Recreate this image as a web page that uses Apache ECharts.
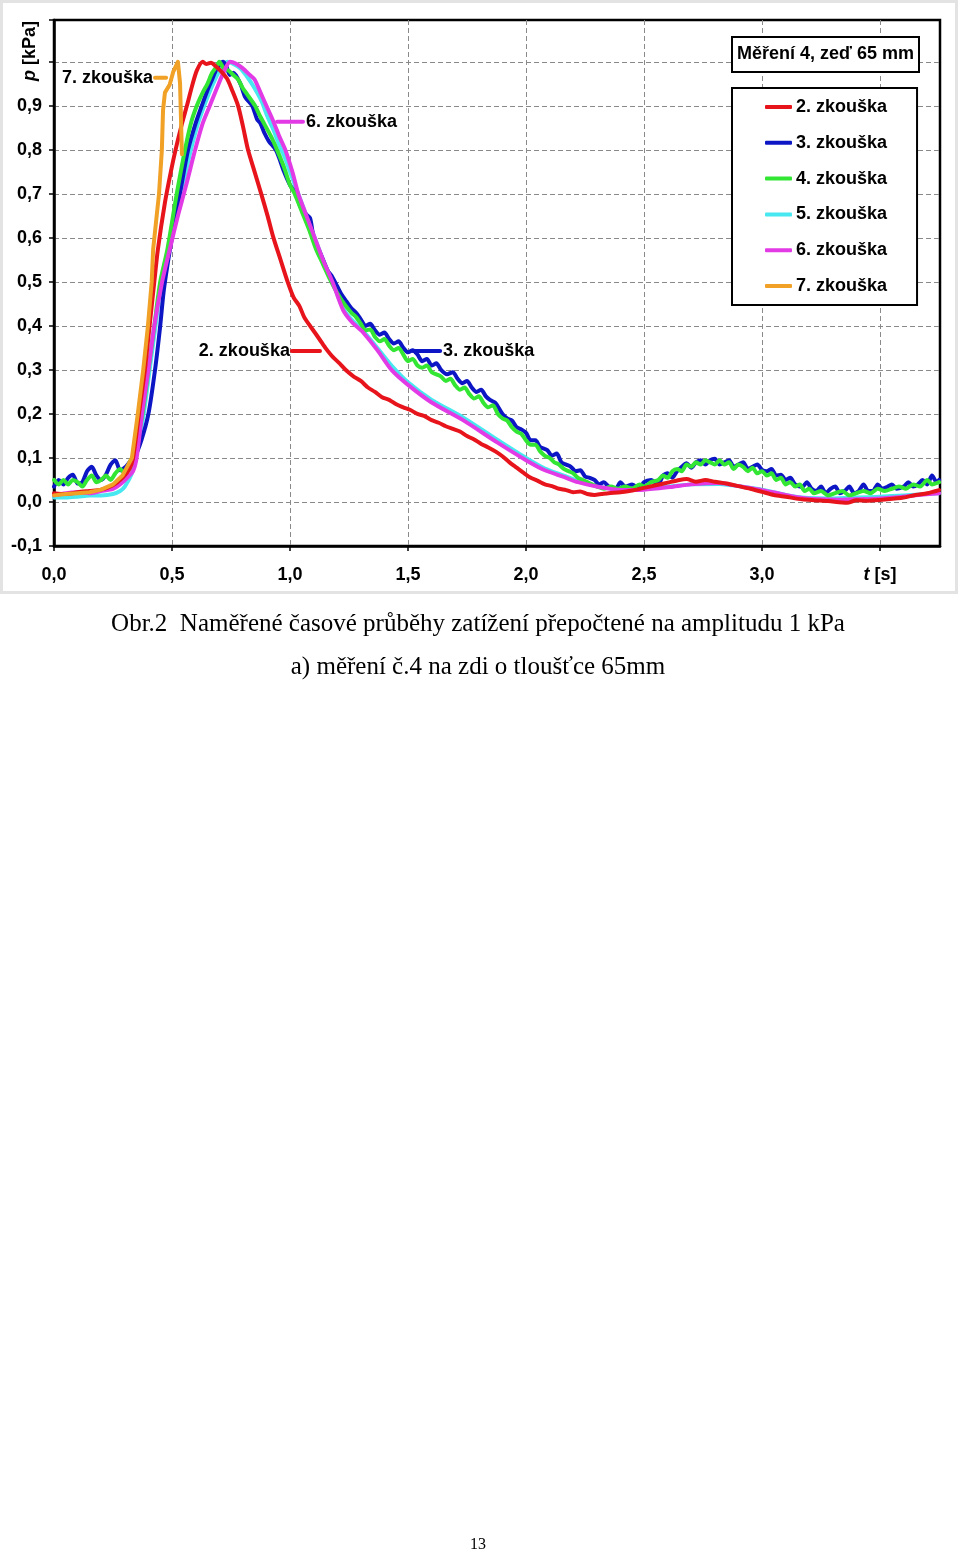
<!DOCTYPE html>
<html><head><meta charset="utf-8">
<script src="https://cdn.jsdelivr.net/npm/echarts@6/dist/echarts.min.js"></script>
<style>html,body{margin:0;padding:0;background:#fff}#c{width:960px;height:1555px}</style>
</head><body><div id="c"></div><script>
// ---- data: [t (s), p (kPa)] ----
const seriesNames = ['2. zkouška','3. zkouška','4. zkouška','5. zkouška','6. zkouška','7. zkouška'];
const test2 = [[0,0.02],[0.05,0.018],[0.1,0.022],[0.15,0.025],[0.2,0.028],[0.25,0.038],[0.29,0.055],[0.32,0.075],[0.335,0.1],[0.36,0.2],[0.385,0.3],[0.405,0.4],[0.425,0.5],[0.44,0.573],[0.47,0.68],[0.495,0.75],[0.515,0.8],[0.54,0.855],[0.563,0.9],[0.585,0.945],[0.605,0.98],[0.63,1.0],[0.645,0.995],[0.665,0.998],[0.685,0.99],[0.705,0.98],[0.733,0.962],[0.755,0.935],[0.78,0.9],[0.8,0.855],[0.822,0.8],[0.85,0.75],[0.878,0.7],[0.905,0.65],[0.93,0.6],[0.96,0.55],[0.99,0.5],[1.015,0.465],[1.04,0.445],[1.06,0.42],[1.085,0.4],[1.105,0.385],[1.127,0.368],[1.15,0.35],[1.18,0.33],[1.21,0.315],[1.24,0.298],[1.27,0.285],[1.3,0.275],[1.33,0.26],[1.36,0.25],[1.39,0.238],[1.42,0.232],[1.45,0.222],[1.48,0.215],[1.51,0.209],[1.54,0.2],[1.57,0.195],[1.6,0.186],[1.63,0.18],[1.66,0.172],[1.69,0.166],[1.72,0.16],[1.75,0.15],[1.78,0.142],[1.81,0.132],[1.84,0.124],[1.87,0.115],[1.9,0.104],[1.93,0.09],[1.96,0.078],[1.99,0.066],[2.02,0.055],[2.05,0.048],[2.08,0.04],[2.11,0.036],[2.14,0.03],[2.17,0.027],[2.2,0.022],[2.23,0.024],[2.26,0.018],[2.29,0.016],[2.32,0.018],[2.35,0.02],[2.4,0.022],[2.45,0.026],[2.5,0.032],[2.55,0.038],[2.6,0.044],[2.65,0.05],[2.68,0.052],[2.72,0.046],[2.76,0.05],[2.8,0.046],[2.85,0.042],[2.9,0.036],[2.95,0.03],[3.0,0.023],[3.05,0.016],[3.1,0.012],[3.17,0.006],[3.22,0.004],[3.28,0.002],[3.36,-0.002],[3.4,0.004],[3.45,0.003],[3.53,0.006],[3.6,0.01],[3.65,0.016],[3.7,0.02],[3.75,0.027]];
const test3 = [[0,0.035],[0.02,0.05],[0.04,0.04],[0.06,0.055],[0.08,0.062],[0.1,0.042],[0.12,0.045],[0.14,0.07],[0.16,0.08],[0.18,0.06],[0.2,0.05],[0.22,0.062],[0.24,0.085],[0.26,0.095],[0.28,0.072],[0.3,0.078],[0.32,0.09],[0.34,0.1],[0.37,0.14],[0.4,0.2],[0.428,0.3],[0.45,0.4],[0.465,0.48],[0.49,0.57],[0.51,0.63],[0.54,0.72],[0.568,0.8],[0.6,0.86],[0.626,0.9],[0.65,0.935],[0.67,0.96],[0.69,0.985],[0.716,1.0],[0.73,0.99],[0.745,0.97],[0.76,0.975],[0.79,0.95],[0.81,0.92],[0.84,0.9],[0.86,0.87],[0.875,0.86],[0.89,0.84],[0.91,0.82],[0.94,0.8],[0.955,0.78],[0.975,0.75],[1.0,0.72],[1.025,0.7],[1.045,0.67],[1.065,0.655],[1.085,0.645],[1.1,0.6],[1.12,0.575],[1.14,0.55],[1.16,0.525],[1.175,0.515],[1.2,0.49],[1.22,0.47],[1.24,0.455],[1.26,0.44],[1.28,0.43],[1.3,0.415],[1.32,0.4],[1.34,0.405],[1.36,0.39],[1.38,0.38],[1.4,0.385],[1.42,0.37],[1.44,0.36],[1.46,0.365],[1.48,0.35],[1.5,0.34],[1.52,0.345],[1.54,0.335],[1.56,0.32],[1.58,0.325],[1.6,0.31],[1.62,0.315],[1.64,0.3],[1.665,0.29],[1.69,0.295],[1.71,0.28],[1.73,0.27],[1.75,0.275],[1.77,0.26],[1.79,0.25],[1.81,0.255],[1.83,0.24],[1.847,0.232],[1.87,0.225],[1.9,0.2],[1.92,0.19],[1.94,0.185],[1.96,0.17],[1.98,0.165],[2.0,0.157],[2.02,0.14],[2.04,0.14],[2.06,0.125],[2.09,0.118],[2.11,0.105],[2.13,0.11],[2.15,0.09],[2.17,0.085],[2.19,0.08],[2.21,0.07],[2.23,0.072],[2.25,0.058],[2.27,0.055],[2.29,0.05],[2.31,0.04],[2.33,0.045],[2.35,0.035],[2.38,0.03],[2.4,0.045],[2.42,0.035],[2.45,0.04],[2.48,0.03],[2.5,0.045],[2.53,0.05],[2.56,0.04],[2.58,0.06],[2.6,0.065],[2.62,0.055],[2.64,0.07],[2.66,0.08],[2.68,0.088],[2.7,0.078],[2.72,0.09],[2.74,0.095],[2.76,0.085],[2.78,0.095],[2.8,0.098],[2.82,0.085],[2.84,0.09],[2.86,0.095],[2.88,0.08],[2.9,0.085],[2.92,0.09],[2.94,0.075],[2.96,0.08],[2.98,0.085],[3.0,0.073],[3.02,0.07],[3.04,0.075],[3.06,0.06],[3.08,0.062],[3.1,0.05],[3.12,0.055],[3.14,0.04],[3.17,0.034],[3.19,0.045],[3.21,0.03],[3.23,0.025],[3.25,0.035],[3.27,0.02],[3.29,0.03],[3.31,0.035],[3.33,0.02],[3.35,0.025],[3.37,0.035],[3.39,0.02],[3.41,0.025],[3.43,0.04],[3.45,0.025],[3.47,0.025],[3.49,0.04],[3.51,0.03],[3.53,0.034],[3.55,0.04],[3.57,0.03],[3.6,0.035],[3.62,0.045],[3.64,0.035],[3.66,0.04],[3.68,0.05],[3.7,0.04],[3.72,0.06],[3.74,0.045],[3.75,0.05]];
const test4 = [[0,0.05],[0.02,0.04],[0.04,0.05],[0.06,0.04],[0.08,0.05],[0.1,0.045],[0.12,0.035],[0.14,0.05],[0.16,0.06],[0.18,0.045],[0.2,0.05],[0.22,0.06],[0.24,0.05],[0.26,0.065],[0.28,0.075],[0.3,0.065],[0.32,0.09],[0.34,0.11],[0.375,0.2],[0.4,0.3],[0.425,0.4],[0.45,0.5],[0.48,0.573],[0.52,0.7],[0.555,0.8],[0.58,0.86],[0.605,0.9],[0.63,0.93],[0.65,0.95],[0.67,0.975],[0.69,0.99],[0.7,1.0],[0.72,0.985],[0.74,0.98],[0.76,0.97],[0.78,0.96],[0.8,0.94],[0.82,0.925],[0.852,0.9],[0.87,0.88],[0.89,0.86],[0.92,0.83],[0.945,0.8],[0.975,0.76],[1.0,0.72],[1.02,0.7],[1.05,0.66],[1.08,0.62],[1.11,0.575],[1.14,0.54],[1.17,0.505],[1.2,0.475],[1.23,0.45],[1.26,0.43],[1.28,0.42],[1.3,0.405],[1.32,0.39],[1.34,0.392],[1.36,0.375],[1.38,0.365],[1.4,0.37],[1.42,0.355],[1.44,0.345],[1.46,0.35],[1.48,0.335],[1.5,0.32],[1.52,0.325],[1.54,0.31],[1.56,0.305],[1.58,0.31],[1.6,0.295],[1.62,0.29],[1.64,0.285],[1.66,0.275],[1.68,0.28],[1.7,0.265],[1.72,0.255],[1.74,0.26],[1.76,0.245],[1.78,0.235],[1.8,0.24],[1.82,0.225],[1.84,0.215],[1.86,0.22],[1.88,0.2],[1.9,0.19],[1.92,0.185],[1.94,0.17],[1.96,0.16],[1.98,0.155],[2.0,0.14],[2.02,0.13],[2.04,0.13],[2.06,0.115],[2.08,0.105],[2.1,0.1],[2.12,0.09],[2.14,0.085],[2.16,0.075],[2.18,0.07],[2.2,0.065],[2.22,0.055],[2.24,0.05],[2.26,0.045],[2.28,0.04],[2.3,0.035],[2.33,0.03],[2.36,0.035],[2.39,0.03],[2.42,0.035],[2.45,0.03],[2.48,0.04],[2.5,0.035],[2.53,0.045],[2.56,0.05],[2.58,0.06],[2.6,0.055],[2.62,0.07],[2.64,0.075],[2.66,0.07],[2.68,0.085],[2.7,0.08],[2.72,0.09],[2.74,0.085],[2.76,0.095],[2.78,0.09],[2.8,0.085],[2.82,0.095],[2.84,0.085],[2.86,0.09],[2.88,0.075],[2.9,0.085],[2.92,0.08],[2.94,0.07],[2.96,0.078],[2.98,0.065],[3.0,0.07],[3.02,0.06],[3.04,0.065],[3.06,0.05],[3.08,0.055],[3.1,0.04],[3.12,0.045],[3.14,0.035],[3.16,0.04],[3.18,0.025],[3.2,0.03],[3.22,0.02],[3.25,0.025],[3.28,0.015],[3.31,0.02],[3.34,0.025],[3.37,0.015],[3.4,0.02],[3.43,0.025],[3.46,0.02],[3.49,0.03],[3.52,0.025],[3.55,0.03],[3.58,0.035],[3.61,0.03],[3.64,0.04],[3.67,0.035],[3.7,0.05],[3.72,0.04],[3.75,0.045]];
const test5 = [[0,0.01],[0.05,0.01],[0.1,0.012],[0.15,0.015],[0.2,0.015],[0.25,0.018],[0.28,0.025],[0.3,0.035],[0.33,0.065],[0.345,0.1],[0.38,0.2],[0.405,0.3],[0.43,0.4],[0.455,0.5],[0.485,0.573],[0.52,0.66],[0.55,0.73],[0.58,0.8],[0.61,0.86],[0.64,0.905],[0.67,0.945],[0.7,0.978],[0.735,1.0],[0.76,0.995],[0.79,0.985],[0.82,0.965],[0.85,0.94],[0.88,0.91],[0.905,0.875],[0.93,0.845],[0.955,0.81],[0.98,0.78],[1.0,0.75],[1.035,0.7],[1.07,0.65],[1.105,0.6],[1.14,0.55],[1.18,0.5],[1.225,0.44],[1.26,0.415],[1.31,0.388],[1.37,0.35],[1.43,0.31],[1.5,0.272],[1.6,0.232],[1.733,0.192],[1.876,0.142],[2.0,0.1],[2.08,0.076],[2.16,0.06],[2.22,0.048],[2.3,0.036],[2.4,0.03],[2.5,0.03],[2.6,0.035],[2.7,0.04],[2.82,0.041],[2.9,0.036],[3.0,0.028],[3.1,0.016],[3.17,0.01],[3.3,0.008],[3.4,0.01],[3.5,0.012],[3.6,0.015],[3.75,0.02]];
const test6 = [[0,0.015],[0.05,0.02],[0.1,0.022],[0.15,0.02],[0.2,0.025],[0.25,0.03],[0.28,0.04],[0.31,0.055],[0.335,0.07],[0.35,0.1],[0.373,0.2],[0.4,0.3],[0.425,0.4],[0.458,0.5],[0.49,0.573],[0.525,0.65],[0.56,0.72],[0.598,0.8],[0.63,0.86],[0.66,0.9],[0.69,0.94],[0.72,0.978],[0.746,1.0],[0.77,0.996],[0.8,0.985],[0.83,0.97],[0.85,0.96],[0.875,0.93],[0.9,0.9],[0.93,0.864],[0.955,0.83],[0.98,0.8],[1.01,0.75],[1.035,0.7],[1.07,0.65],[1.105,0.6],[1.14,0.55],[1.18,0.5],[1.225,0.436],[1.26,0.41],[1.29,0.395],[1.31,0.385],[1.37,0.345],[1.43,0.3],[1.5,0.266],[1.6,0.226],[1.733,0.186],[1.876,0.136],[2.0,0.095],[2.08,0.072],[2.16,0.057],[2.22,0.045],[2.3,0.035],[2.4,0.027],[2.5,0.028],[2.61,0.034],[2.7,0.04],[2.82,0.043],[2.9,0.036],[3.0,0.027],[3.08,0.018],[3.17,0.009],[3.25,0.006],[3.32,0.005],[3.45,0.007],[3.53,0.009],[3.65,0.015],[3.75,0.02]];
const test7 = [[0,0.015],[0.05,0.018],[0.1,0.02],[0.15,0.022],[0.2,0.028],[0.25,0.04],[0.29,0.06],[0.33,0.1],[0.355,0.2],[0.378,0.3],[0.398,0.4],[0.414,0.5],[0.42,0.573],[0.435,0.65],[0.445,0.7],[0.457,0.8],[0.462,0.89],[0.47,0.93],[0.49,0.948],[0.505,0.977],[0.525,1.0],[0.534,0.952],[0.542,0.79]];
const xTicks = ['0,0','0,5','1,0','1,5','2,0','2,5','3,0'];
const yTicks = ['-0,1','0,0','0,1','0,2','0,3','0,4','0,5','0,6','0,7','0,8','0,9'];

const colors = {'2. zkouška':'#e8141c','3. zkouška':'#0c16c4','4. zkouška':'#33e634','5. zkouška':'#47e8f0','6. zkouška':'#e23be6','7. zkouška':'#f0a126'};
const dataMap = {'2. zkouška':test2,'3. zkouška':test3,'4. zkouška':test4,'5. zkouška':test5,'6. zkouška':test6,'7. zkouška':test7};
const drawOrder = ['5. zkouška','3. zkouška','4. zkouška','6. zkouška','2. zkouška','7. zkouška'];

const FONT = '"Liberation Sans", Arial, sans-serif';
const SERIF = '"Liberation Serif", "Times New Roman", serif';

const chart = echarts.init(document.getElementById('c'), null, {renderer:'canvas'});

function near(v, t){ return Math.abs(v - t) < 1e-6; }

const option = {
  animation: false,
  backgroundColor: '#fff',
  title: {
    text: 'Měření 4, zeď 65 mm', left: 732, top: 37,
    padding: [7, 5, 7, 5], borderColor: '#000', borderWidth: 2, backgroundColor: '#fff',
    textStyle: {fontFamily: FONT, fontSize: 18, fontWeight: 'bold', color: '#000', lineHeight: 21}
  },
  legend: {
    orient: 'vertical', left: 732, top: 88,
    data: seriesNames, selectedMode: false,
    icon: 'roundRect', itemWidth: 27, itemHeight: 4, itemGap: 15.8,
    padding: [9, 30, 9, 33], borderColor: '#000', borderWidth: 2, backgroundColor: '#fff',
    textStyle: {fontFamily: FONT, fontSize: 18, fontWeight: 'bold', color: '#000', lineHeight: 20, padding: [0,0,0,-1]}
  },
  grid: {left: 54, top: 20, right: 20, height: 526, show: true, borderColor: '#000', borderWidth: 2.5},
  xAxis: {
    type: 'value', min: 0, max: 3.754, interval: 0.5,
    axisLine: {show: true, onZero: false, lineStyle: {color: '#000', width: 2.5}},
    axisTick: {show: true, length: 5, lineStyle: {color: '#000', width: 1.5}},
    axisLabel: {
      margin: 20, fontFamily: FONT, fontSize: 18, fontWeight: 'bold', color: '#000', showMaxLabel: false,
      formatter: function (v) {
        if (near(v, 3.5)) return '{i|t} [s]';
        const k = Math.round(v * 2);
        if (!near(v * 2, k)) return '';
        return xTicks[k] !== undefined ? xTicks[k] : '';
      },
      rich: {i: {fontStyle: 'italic', fontWeight: 'bold', fontFamily: FONT, fontSize: 18, color: '#000'}}
    },
    splitLine: {show: true, showMinLine: false, showMaxLine: false, lineStyle: {color: '#8a8a8a', type: [5, 3], width: 1}}
  },
  yAxis: {
    type: 'value', min: -0.1, max: 1.095, interval: 0.1,
    axisLine: {show: true, onZero: false, lineStyle: {color: '#000', width: 2.5}},
    axisTick: {show: true, length: 5, lineStyle: {color: '#000', width: 1.5}},
    axisLabel: {
      margin: 12, fontFamily: FONT, fontSize: 18, fontWeight: 'bold', color: '#000',
      formatter: function (v) {
        const k = Math.round((v + 0.1) * 10);
        if (!near((v + 0.1) * 10, k)) return '';
        return yTicks[k] !== undefined ? yTicks[k] : '';
      }
    },
    splitLine: {show: true, showMinLine: false, showMaxLine: false, lineStyle: {color: '#8a8a8a', type: [5, 3], width: 1}}
  },
  series: drawOrder.map(function (name, i) {
    return {
      name: name, type: 'line', data: dataMap[name],
      showSymbol: false, symbol: 'none',
      smooth: name === '7. zkouška' ? false : 0.25,
      lineStyle: {color: colors[name], width: 4, cap: 'round', join: 'round'},
      itemStyle: {color: colors[name]},
      z: 2 + i
    };
  })
};
chart.setOption(option);

// Annotations (label texts + connector strokes), anchored in data coordinates
const annotations = [
  {name: '7. zkouška', from: [0.428, 0.964], to: [0.475, 0.964], textSide: 'left'},
  {name: '6. zkouška', from: [0.945, 0.864], to: [1.055, 0.864], textSide: 'right'},
  {name: '2. zkouška', from: [1.008, 0.343], to: [1.127, 0.343], textSide: 'left'},
  {name: '3. zkouška', from: [1.521, 0.343], to: [1.636, 0.343], textSide: 'right'}
];
const g = [];
annotations.forEach(function (a) {
  const p1 = chart.convertToPixel({gridIndex: 0}, a.from);
  const p2 = chart.convertToPixel({gridIndex: 0}, a.to);
  g.push({type: 'line', shape: {x1: p1[0], y1: p1[1], x2: p2[0], y2: p2[1]},
    style: {stroke: colors[a.name], lineWidth: 4, lineCap: 'round'}, z: 20});
  const left = a.textSide === 'left';
  g.push({type: 'text', x: left ? p1[0] - 2 : p2[0] + 3, y: p1[1], z: 21,
    style: {text: a.name, fill: '#000', font: 'bold 18px ' + FONT, textAlign: left ? 'right' : 'left', textVerticalAlign: 'middle'}});
});
// y-axis name (rotated)
g.push({type: 'text', x: 30, y: 51, rotation: Math.PI / 2, z: 21,
  style: {text: '{i|p} [kPa]', font: 'bold 18px ' + FONT, fill: '#000', textAlign: 'center', textVerticalAlign: 'middle',
    rich: {i: {fontStyle: 'italic', fontWeight: 'bold', fontSize: 18, fontFamily: FONT, fill: '#000'}}}});
// light frame around figure
g.push({type: 'rect', shape: {x: 1.5, y: 1.5, width: 955, height: 591}, style: {fill: 'none', stroke: '#e3e3e3', lineWidth: 3}, z: 0});
// caption and page number
g.push({type: 'text', x: 478, y: 624, style: {text: 'Obr.2  Naměřené časové průběhy zatížení přepočtené na amplitudu 1 kPa', font: '25px ' + SERIF, fill: '#000', textAlign: 'center', textVerticalAlign: 'middle'}});
g.push({type: 'text', x: 478, y: 667, style: {text: 'a) měření č.4 na zdi o tloušťce 65mm', font: '25px ' + SERIF, fill: '#000', textAlign: 'center', textVerticalAlign: 'middle'}});
g.push({type: 'text', x: 478, y: 1545, style: {text: '13', font: '16px ' + SERIF, fill: '#000', textAlign: 'center', textVerticalAlign: 'middle'}});
chart.setOption({graphic: g});
</script></body></html>
